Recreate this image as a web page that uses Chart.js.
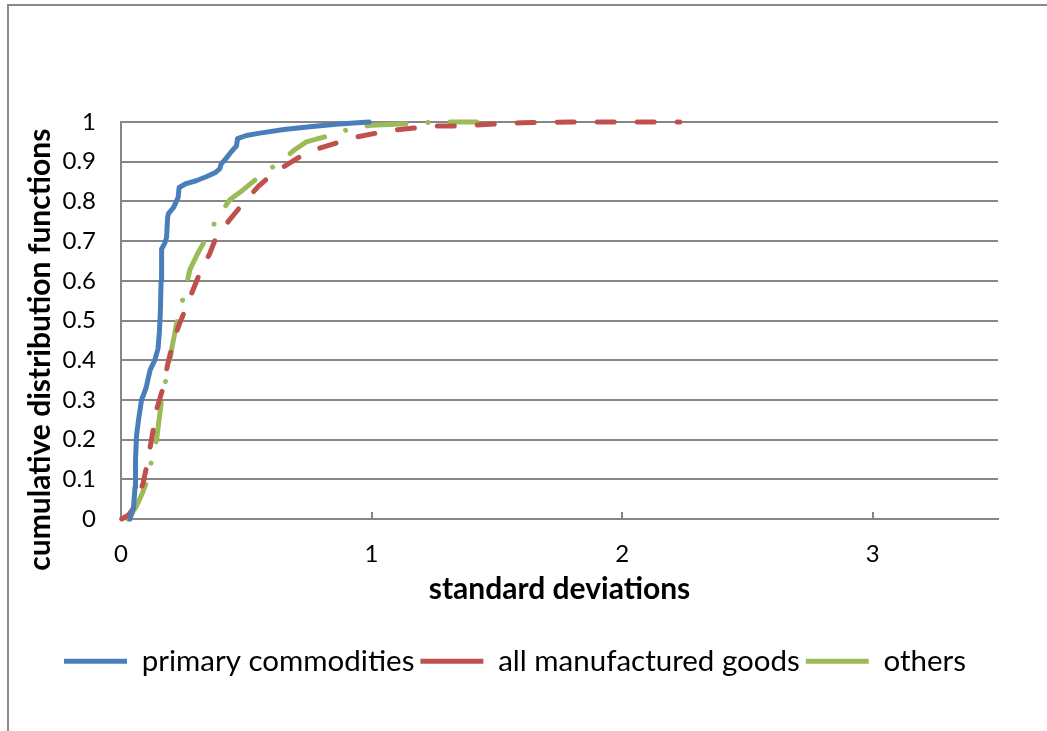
<!DOCTYPE html>
<html>
<head>
<meta charset="utf-8">
<script src="https://cdn.jsdelivr.net/npm/chart.js@4.4.1/dist/chart.umd.min.js"></script>
<style>
  html, body { margin: 0; padding: 0; background: #fff; }
  #frame {
    position: absolute;
    left: 7px;
    top: 4px;
    width: 1040px;
    height: 727px;
    border-top: 2px solid #8a8a8a;
    border-left: 2px solid #8a8a8a;
    box-sizing: border-box;
  }
  #wrap { position: absolute; left: 0; top: 0; width: 1038px; height: 725px; }
</style>
</head>
<body>
<div id="frame"><div id="wrap"><canvas id="cdfChart"></canvas></div></div>
<script>
// series labels
const seriesNames = ["primary commodities", "all manufactured goods", "others"];

// primary commodities (x = standard deviations, y = cumulative share)
const primaryX = [0.036, 0.05, 0.056, 0.058, 0.062, 0.07, 0.082, 0.10, 0.116, 0.135, 0.148, 0.153, 0.157, 0.16, 0.162, 0.175, 0.182, 0.186, 0.19, 0.21, 0.228, 0.232, 0.26, 0.30, 0.34, 0.375, 0.394, 0.40, 0.414, 0.44, 0.461, 0.465, 0.50, 0.554, 0.65, 0.753, 0.87, 0.99];
const primaryY = [0, 0.03, 0.08, 0.15, 0.21, 0.25, 0.30, 0.33, 0.375, 0.40, 0.43, 0.47, 0.52, 0.60, 0.68, 0.695, 0.71, 0.76, 0.77, 0.785, 0.81, 0.835, 0.845, 0.852, 0.862, 0.872, 0.882, 0.895, 0.904, 0.925, 0.94, 0.958, 0.966, 0.972, 0.981, 0.988, 0.995, 1.0];

// all manufactured goods
const manufX = [0.003, 0.03, 0.048, 0.07, 0.088, 0.105, 0.116, 0.13, 0.142, 0.158, 0.168, 0.18, 0.19, 0.21, 0.235, 0.262, 0.288, 0.315, 0.355, 0.381, 0.434, 0.481, 0.547, 0.607, 0.726, 0.793, 0.873, 0.946, 1.019, 1.1, 1.25, 1.35, 1.5, 1.6, 1.8, 2.23];
const manufY = [0, 0.01, 0.025, 0.06, 0.09, 0.14, 0.18, 0.23, 0.276, 0.31, 0.33, 0.37, 0.40, 0.45, 0.494, 0.536, 0.578, 0.62, 0.67, 0.712, 0.754, 0.79, 0.837, 0.871, 0.917, 0.934, 0.95, 0.963, 0.972, 0.98, 0.99, 0.99, 0.995, 0.998, 1.0, 1.0];

// others
const othersX = [0.028, 0.045, 0.062, 0.085, 0.102, 0.122, 0.135, 0.142, 0.152, 0.162, 0.182, 0.195, 0.202, 0.215, 0.228, 0.255, 0.275, 0.307, 0.348, 0.388, 0.434, 0.487, 0.56, 0.627, 0.693, 0.74, 0.839, 0.919, 1.0, 1.18, 1.26, 1.42];
const othersY = [0, 0.015, 0.033, 0.065, 0.092, 0.146, 0.18, 0.2, 0.25, 0.30, 0.36, 0.40, 0.427, 0.47, 0.51, 0.573, 0.628, 0.67, 0.716, 0.762, 0.804, 0.829, 0.867, 0.896, 0.93, 0.95, 0.967, 0.984, 0.992, 0.997, 1.0, 1.0];

// tick values
const xTickValues = [0, 1, 2, 3];
const yTickValues = [0, 0.1, 0.2, 0.3, 0.4, 0.5, 0.6, 0.7, 0.8, 0.9, 1];

const gridGray = "#868686";
const fontName = "Lato";

function toPoints(xs, ys) {
  return xs.map((x, i) => ({ x: x, y: ys[i] }));
}

function setTicks(values) {
  return function (scale) {
    scale.ticks = values.map((v) => ({ value: v }));
  };
}

const ctx = document.getElementById("cdfChart");

new Chart(ctx, {
  type: "scatter",
  data: {
    datasets: [
      {
        label: seriesNames[0],
        data: toPoints(primaryX, primaryY),
        borderColor: "#4A7EBB",
        backgroundColor: "#4A7EBB",
        borderWidth: 5,
        borderCapStyle: "round",
        borderJoinStyle: "round",
      },
      {
        label: seriesNames[1],
        data: toPoints(manufX, manufY),
        borderColor: "#C0504D",
        backgroundColor: "#C0504D",
        borderWidth: 5,
        borderDash: [17, 23],
        borderCapStyle: "round",
        borderJoinStyle: "round",
      },
      {
        label: seriesNames[2],
        data: toPoints(othersX, othersY),
        borderColor: "#9BBB59",
        backgroundColor: "#9BBB59",
        borderWidth: 5,
        borderDash: [39, 22, 0.01, 22],
        borderCapStyle: "round",
        borderJoinStyle: "round",
      },
    ],
  },
  options: {
    responsive: true,
    maintainAspectRatio: false,
    animation: false,
    datasets: {
      scatter: { showLine: true, pointRadius: 0, pointHoverRadius: 0, tension: 0, clip: false },
    },
    layout: {
      // left padding shifts the centred legend to the right
      padding: { top: 116, right: 49, left: 23, bottom: 45 },
    },
    plugins: {
      legend: {
        position: "bottom",
        labels: {
          usePointStyle: true,
          pointStyle: "line",
          pointStyleWidth: 63,
          padding: 6,
          color: "#000",
          font: { family: fontName, size: 29.5 },
        },
      },
      tooltip: { enabled: false },
    },
    scales: {
      x: {
        type: "linear",
        min: 0,
        max: 3.5,
        afterBuildTicks: setTicks(xTickValues),
        afterFit: (scale) => {
          scale.height = 121.5;
        },
        ticks: {
          padding: 27.6,
          color: "#000",
          font: { family: fontName, size: 24 },
          callback: (v) => String(v),
        },
        grid: {
          drawOnChartArea: false,
          tickLength: -7,
          color: gridGray,
          lineWidth: 2,
        },
        border: { color: gridGray, width: 2 },
        title: {
          display: true,
          text: "standard deviations",
          color: "#000",
          font: { family: fontName, size: 30, weight: "bold" },
          padding: { top: 0, bottom: 33.5 },
        },
      },
      y: {
        min: 0,
        max: 1,
        afterBuildTicks: setTicks(yTickValues),
        afterFit: (scale) => {
          scale.width = 89;
        },
        ticks: {
          padding: 25,
          color: "#000",
          font: { family: fontName, size: 24 },
          callback: (v) => String(v),
        },
        grid: {
          drawTicks: false,
          color: gridGray,
          lineWidth: 2,
        },
        border: { color: gridGray, width: 2 },
        title: {
          display: true,
          // trailing no-break spaces push the centred title down like the original
          text: "cumulative distribution functions\u00a0\u00a0\u00a0\u00a0\u00a0\u00a0\u00a0\u00a0",
          color: "#000",
          font: { family: fontName, size: 30, weight: "bold" },
          padding: { top: -10, bottom: 0 },
        },
      },
    },
  },
});
</script>
</body>
</html>
